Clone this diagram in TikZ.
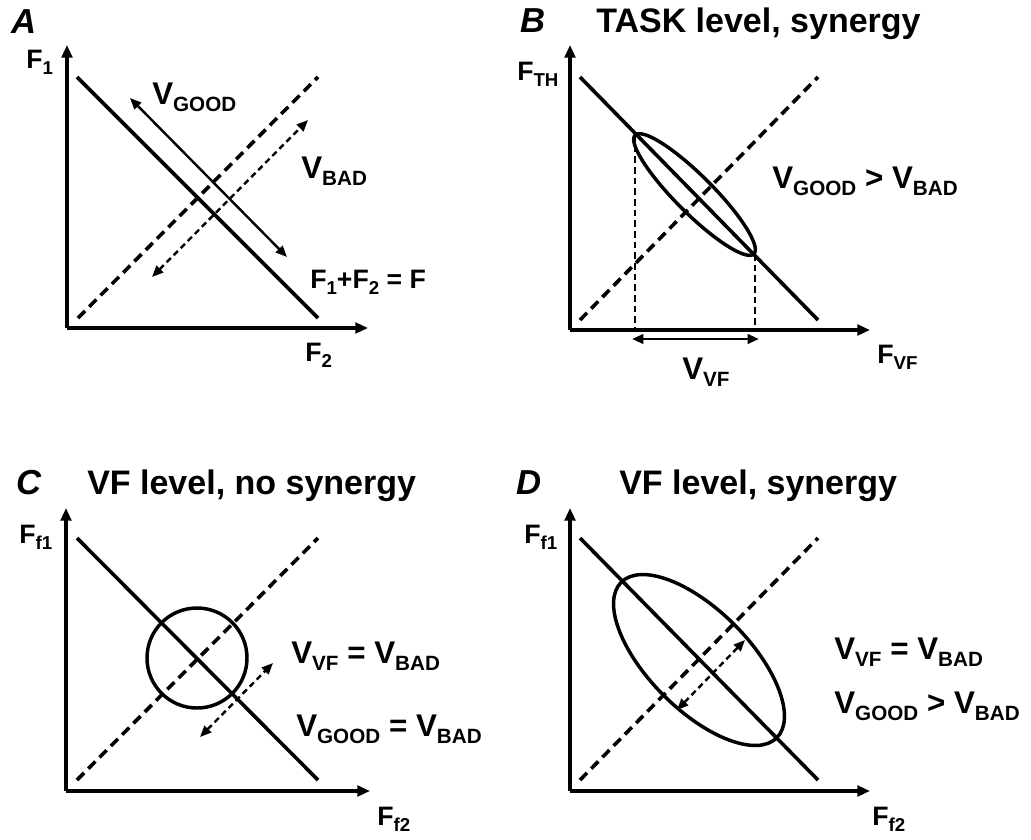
\documentclass[tikz,border=0pt]{standalone}
\usepackage{fontspec}
\setmainfont{Liberation Sans}
\usetikzlibrary{arrows.meta}
\newcommand\Vx[1]{V\raisebox{-5.8pt}{\fontsize{15.5}{15.5}\selectfont #1}}
\newcommand\Fx[1]{F\raisebox{-5pt}{\fontsize{14}{14}\selectfont #1}}
\begin{document}
\begin{tikzpicture}[x=0.75pt,y=-0.75pt,
  axis/.style={line width=2.6pt,-{Triangle[length=9.5pt,width=8pt]}},
  mainline/.style={line width=2.7pt},
  dline/.style={line width=2.7pt,dash pattern=on 7.5pt off 4.5pt},
  thinarrow/.style={line width=1.8pt,{Triangle[length=8.5pt,width=7pt]}-{Triangle[length=8.5pt,width=7pt]}},
  thindash/.style={thinarrow,dash pattern=on 4.5pt off 3pt},
  vdash/.style={line width=1.6pt,dash pattern=on 5pt off 3pt},
  curve/.style={line width=2.6pt},
  lab/.style={anchor=base west,inner sep=0pt,font=\bfseries\fontsize{23.5}{23.5}\selectfont},
  flab/.style={anchor=base west,inner sep=0pt,font=\bfseries\fontsize{20}{20}\selectfont},
  ttl/.style={anchor=base west,inner sep=0pt,font=\bfseries\fontsize{25.5}{25.5}\selectfont},
  pl/.style={anchor=base west,inner sep=0pt,font=\bfseries\itshape\fontsize{26}{26}\selectfont}]
\useasboundingbox (0,0) rectangle (1031,839);

% ---------------- Panel A ----------------
\coordinate (Ao) at (67,328);
\coordinate (Ay) at (67,45);
\coordinate (Ax) at (368,328);
\draw[axis] (Ao) -- (Ay);
\draw[axis] (Ao) -- (Ax);
\coordinate (As1) at (77,77); \coordinate (As2) at (318,318);
\draw[mainline] (As1) -- (As2);
\coordinate (Ad1) at (78,318); \coordinate (Ad2) at (318,77);
\draw[dline] (Ad1) -- (Ad2);
\coordinate (Ag1) at (130,98); \coordinate (Ag2) at (287,257);
\draw[thinarrow] (Ag1) -- (Ag2);
\coordinate (Ab1) at (152,277); \coordinate (Ab2) at (308,120);
\draw[thindash] (Ab1) -- (Ab2);
\node[pl] (Alet) at (11,33) {A};
\node[flab] (AF1) at (26,68) {\Fx{1}};
\node[lab] (AVg) at (152,104) {\Vx{GOOD}};
\node[lab] (AVb) at (301,178) {\Vx{BAD}};
\node[flab] (Asum) at (310,288) {\Fx{1}+\Fx{2} = F};
\node[flab] (AF2) at (305,361) {\Fx{2}};

% ---------------- Panel B ----------------
\coordinate (Bo) at (570,330);
\coordinate (By) at (570,45);
\coordinate (Bx) at (870,330);
\draw[axis] (Bo) -- (By);
\draw[axis] (Bo) -- (Bx);
\coordinate (Bs1) at (580,77); \coordinate (Bs2) at (818,320);
\draw[mainline] (Bs1) -- (Bs2);
\coordinate (Bd1) at (580,320); \coordinate (Bd2) at (818,77);
\draw[dline] (Bd1) -- (Bd2);
\coordinate (Bc) at (694.5,194.5);
\draw[curve,rotate around={-45:(Bc)}] (Bc) ellipse [x radius=63pt,y radius=14pt];
\coordinate (Bv1t) at (635,135); \coordinate (Bv1b) at (635,330);
\coordinate (Bv2t) at (755,254); \coordinate (Bv2b) at (755,330);
\draw[vdash] (Bv1t) -- (Bv1b);
\draw[vdash] (Bv2t) -- (Bv2b);
\coordinate (Bw1) at (632,339); \coordinate (Bw2) at (759,339);
\draw[thinarrow,line width=2.2pt] (Bw1) -- (Bw2);
\node[pl] (Blet) at (520,32) {B};
\node[ttl] (Btitle) at (596,32) {TASK level, synergy};
\node[flab] (BFth) at (517,80) {\Fx{TH}};
\node[lab] (Bvv) at (772,188) {\Vx{GOOD} > \Vx{BAD}};
\node[lab] (Bvf) at (682,379) {\Vx{VF}};
\node[flab] (BFvf) at (877,363) {\Fx{VF}};

% ---------------- Panel C ----------------
\coordinate (Co) at (66,791);
\coordinate (Cy) at (66,508);
\coordinate (Cx) at (370,791);
\draw[axis] (Co) -- (Cy);
\draw[axis] (Co) -- (Cx);
\coordinate (Cs1) at (77,538); \coordinate (Cs2) at (318,780);
\draw[mainline] (Cs1) -- (Cs2);
\coordinate (Cd1) at (77,780); \coordinate (Cd2) at (318,538);
\draw[dline] (Cd1) -- (Cd2);
\coordinate (Cc) at (197,658);
\draw[curve] (Cc) circle [radius=37.5pt];
\coordinate (Ca1) at (200,737); \coordinate (Ca2) at (273,663);
\draw[thindash] (Ca1) -- (Ca2);
\node[pl] (Clet) at (16,494) {C};
\node[ttl] (Ctitle) at (87,494) {VF level, no synergy};
\node[flab] (CFf1) at (19,543) {\Fx{f1}};
\node[lab] (Cl1) at (291,663) {\Vx{VF} = \Vx{BAD}};
\node[lab] (Cl2) at (296,736) {\Vx{GOOD} = \Vx{BAD}};
\node[flab] (CFf2) at (377,825) {\Fx{f2}};

% ---------------- Panel D ----------------
\coordinate (Do) at (570,791);
\coordinate (Dy) at (570,508);
\coordinate (Dx) at (870,791);
\draw[axis] (Do) -- (Dy);
\draw[axis] (Do) -- (Dx);
\coordinate (Ds1) at (580,538); \coordinate (Ds2) at (818,780);
\draw[mainline] (Ds1) -- (Ds2);
\coordinate (Dd1) at (580,780); \coordinate (Dd2) at (818,538);
\draw[dline] (Dd1) -- (Dd2);
\coordinate (Dc) at (699,660);
\draw[curve,rotate around={-45:(Dc)}] (Dc) ellipse [x radius=82.5pt,y radius=37.5pt];
\coordinate (Da1) at (677,710); \coordinate (Da2) at (745,640);
\draw[thindash] (Da1) -- (Da2);
\node[pl] (Dlet) at (516,494) {D};
\node[ttl] (Dtitle) at (619,494) {VF level, synergy};
\node[flab] (DFf1) at (524,543) {\Fx{f1}};
\node[lab] (Dl1) at (834,659) {\Vx{VF} = \Vx{BAD}};
\node[lab] (Dl2) at (834,713) {\Vx{GOOD} > \Vx{BAD}};
\node[flab] (DFf2) at (872,825) {\Fx{f2}};
\end{tikzpicture}
\end{document}
